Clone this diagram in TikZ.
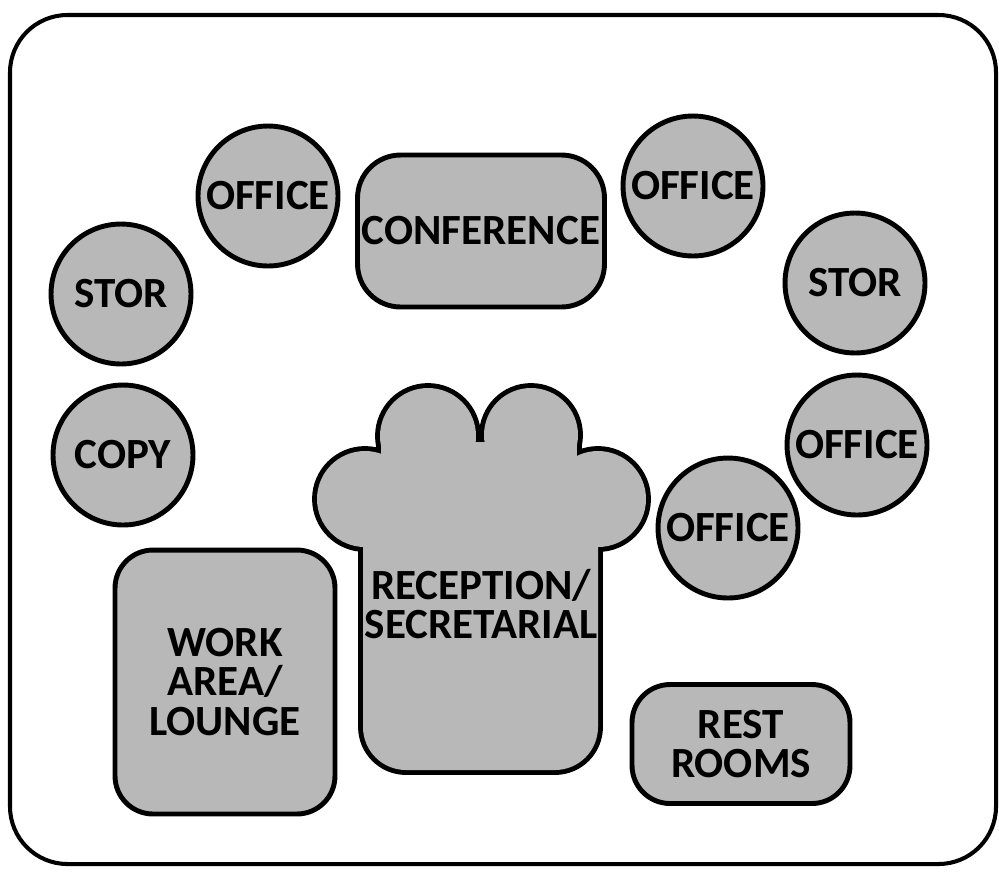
\documentclass[tikz,border=0pt]{standalone}
\usepackage{fontspec}
\setmainfont{Carlito}
\begin{document}
\begin{tikzpicture}[x=0.02cm,y=-0.02cm]
  \tikzstyle{lbl}=[font=\fontsize{24.5}{20.5}\selectfont\bfseries,align=center,inner sep=0pt]
  \tikzstyle{room}=[lbl,draw,line width=2.8pt,fill=black!28]
  \tikzstyle{rnd}=[room,circle,minimum size=2.8cm]
  \tikzstyle{box}=[room,rectangle,rounded corners=0.76cm]
  \useasboundingbox (0,0) rectangle (999,873);
  \draw[line width=2.3pt,rounded corners=1.15cm] (10,15) rectangle (996,864);
  \node[rnd] (offNW) at (268,196) {OFFICE};
  \node[rnd] (offNE) at (693,186) {OFFICE};
  \node[rnd] (storW) at (121,294) {STOR};
  \node[rnd] (storE) at (855,283) {STOR};
  \node[rnd] (copy) at (123,455) {COPY};
  \node[rnd] (offE) at (857,445) {OFFICE};
  \node[rnd] (offSE) at (728,528) {OFFICE};
  \node[box,rounded corners=0.86cm,minimum width=4.94cm,minimum height=3.04cm] (conf) at (481,231) {CONFERENCE};
  \node[box,minimum width=4.4cm,minimum height=5.28cm] (work) at (225,682) {WORK\\[2pt]AREA/\\[2pt]LOUNGE};
  \node[box,minimum width=4.36cm,minimum height=2.38cm] (rest) at (741,744) {REST\\[2pt]ROOMS};
  \foreach \cx/\cy/\cr in {428/436/48,531/435/47,365/499/48,598/499/48}
    \draw[line width=5.6pt] (\cx,\cy) circle[radius=\cr];
  \draw[line width=5.6pt] (381,442) rectangle (577,520);
  \draw[line width=5.6pt,rounded corners=0.86cm] (363,499) -- (363,770) -- (598,770) -- (598,499) -- cycle;
  \foreach \cx/\cy/\cr in {428/436/48,531/435/47,365/499/48,598/499/48}
    \fill[black!28] (\cx,\cy) circle[radius=\cr];
  \fill[black!28] (381,442) rectangle (577,520);
  \fill[black!28,rounded corners=0.86cm] (363,499) -- (363,770) -- (598,770) -- (598,499) -- cycle;
  \node[lbl] (recep) at (481,604) {RECEPTION/\\[2pt]SECRETARIAL};
\end{tikzpicture}
\end{document}
